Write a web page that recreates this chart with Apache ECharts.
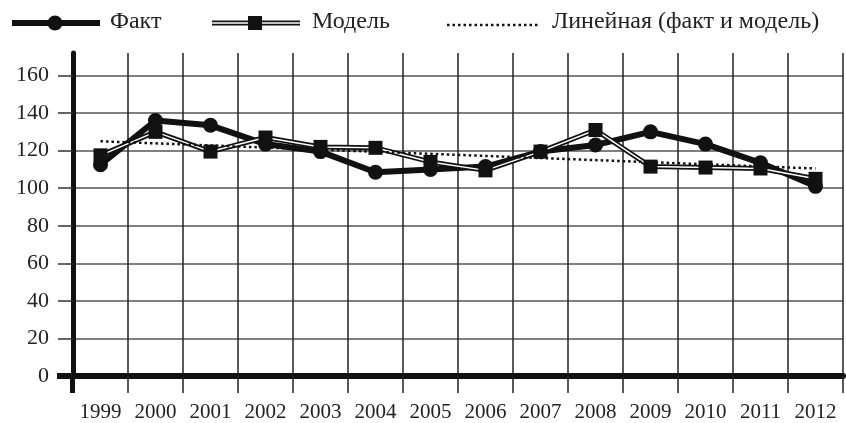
<!DOCTYPE html>
<html>
<head>
<meta charset="utf-8">
<script src="https://cdn.jsdelivr.net/npm/echarts@6/dist/echarts.min.js"></script>
<style>
html, body { margin: 0; padding: 0; background: #fff; }
#main { width: 846px; height: 423px; }
</style>
</head>
<body>
<div id="main"></div>
<script>
// данные
var years = ['1999', '2000', '2001', '2002', '2003', '2004', '2005', '2006', '2007', '2008', '2009', '2010', '2011', '2012'];
var fact = [112.5, 136, 133.5, 123.5, 119.5, 108.5, 110, 111.5, 119.5, 123, 130, 123.5, 113.5, 101];
var model = [117.5, 130, 119.5, 127, 122, 121.5, 114, 109.5, 119.5, 131, 111.5, 111, 110.5, 105];
var trendStart = 125;   // 1999
var trendEnd = 110.5;   // 2012
var yTicks = [0, 20, 40, 60, 80, 100, 120, 140, 160];

var trend = years.map(function (y, i) {
  if (i === 0) return trendStart;
  if (i === years.length - 1) return trendEnd;
  return null;
});

var FONT = 'Liberation Serif';
var LEGEND_FONT = '24px "Liberation Serif"';
var GRID_LEFT = 73;
var myChart = echarts.init(document.getElementById('main'));

var option = {
  animation: false,
  grid: { left: GRID_LEFT, right: 3, top: 53, bottom: 42.5 },
  xAxis: {
    type: 'category',
    data: years,
    boundaryGap: true,
    axisLine: { lineStyle: { color: '#111', width: 6 } },
    axisTick: { show: true, length: 17, lineStyle: { color: '#222', width: 1.5 } },
    axisLabel: { margin: 26, fontFamily: FONT, fontSize: 21, color: '#222' },
    splitLine: { show: true, lineStyle: { color: '#222', width: 1.5 } }
  },
  yAxis: {
    type: 'value',
    min: 0,
    max: 172,
    interval: 20,
    axisLine: { show: true, lineStyle: { color: '#111', width: 5 } },
    axisTick: { show: true, length: 15, customValues: yTicks, lineStyle: { color: '#333', width: 1.5 } },
    axisLabel: { customValues: yTicks, margin: 24, fontFamily: FONT, fontSize: 22, color: '#222' },
    splitLine: { show: true, lineStyle: { color: '#555', width: 1.5 } }
  },
  series: [
    {
      name: 'Факт',
      type: 'line',
      data: fact,
      symbol: 'circle',
      symbolSize: 15,
      itemStyle: { color: '#111' },
      lineStyle: { color: '#111', width: 6 }
    },
    {
      // модель: внешняя чёрная линия
      name: 'Модель',
      type: 'line',
      data: model,
      symbol: 'none',
      lineStyle: { color: '#111', width: 5 }
    },
    {
      // модель: белая середина (двойная линия)
      type: 'line',
      data: model,
      symbol: 'none',
      lineStyle: { color: '#fff', width: 1.5 }
    },
    {
      // модель: маркеры
      type: 'line',
      data: model,
      symbol: 'rect',
      symbolSize: 14,
      itemStyle: { color: '#111' },
      lineStyle: { opacity: 0 }
    },
    {
      name: 'Линейная (факт и модель)',
      type: 'line',
      data: trend,
      connectNulls: true,
      symbol: 'none',
      lineStyle: { color: '#111', width: 2.5, type: [2.5, 3] }
    }
  ]
};

myChart.setOption(option);

// легенда + толстые выступы осей в углу (ниже нуля и левее оси Y)
var y0 = myChart.convertToPixel({ yAxisIndex: 0 }, 0);
myChart.setOption({
  graphic: [
    { type: 'line', shape: { x1: 12, y1: 23, x2: 100, y2: 23 }, style: { stroke: '#111', lineWidth: 6 } },
    { type: 'circle', shape: { cx: 55, cy: 23, r: 7.5 }, style: { fill: '#111' } },
    { type: 'text', x: 110, y: 22, style: { text: 'Факт', font: LEGEND_FONT, fill: '#222', verticalAlign: 'middle' } },

    { type: 'line', shape: { x1: 212, y1: 23, x2: 300, y2: 23 }, style: { stroke: '#111', lineWidth: 5 } },
    { type: 'line', shape: { x1: 212, y1: 23, x2: 300, y2: 23 }, style: { stroke: '#fff', lineWidth: 1.5 } },
    { type: 'rect', shape: { x: 248, y: 16, width: 14, height: 14 }, style: { fill: '#111' } },
    { type: 'text', x: 312, y: 22, style: { text: 'Модель', font: LEGEND_FONT, fill: '#222', verticalAlign: 'middle' } },

    { type: 'line', shape: { x1: 447, y1: 25, x2: 538, y2: 25 }, style: { stroke: '#111', lineWidth: 2.5, lineDash: [2.5, 3] } },
    { type: 'text', x: 552, y: 22, style: { text: 'Линейная (факт и модель)', font: LEGEND_FONT, fill: '#222', verticalAlign: 'middle' } },

    { type: 'line', z: 10, shape: { x1: GRID_LEFT - 16, y1: y0, x2: GRID_LEFT, y2: y0 }, style: { stroke: '#111', lineWidth: 6 } },
    { type: 'line', z: 10, shape: { x1: GRID_LEFT - 0.5, y1: y0, x2: GRID_LEFT - 0.5, y2: y0 + 17 }, style: { stroke: '#111', lineWidth: 5 } }
  ]
});
</script>
</body>
</html>
